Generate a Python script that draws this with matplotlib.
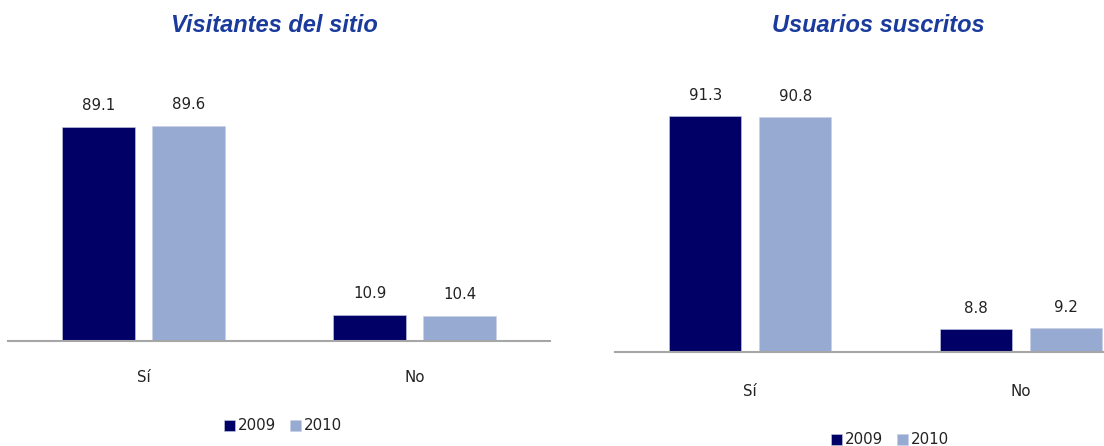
import matplotlib
matplotlib.use("Agg")
import matplotlib.pyplot as plt
from matplotlib.patches import Patch
import numpy as np

categories = ["Sí", "No"]
series_names = ["2009", "2010"]
visitantes_2009 = [89.1, 10.9]
visitantes_2010 = [89.6, 10.4]
usuarios_2009 = [91.3, 8.8]
usuarios_2010 = [90.8, 9.2]
titles = ["Visitantes del sitio", "Usuarios suscritos"]

C_DARK = "#000066"
C_LIGHT = "#96aad2"
TITLE_C = "#1a3b9c"
AX_C = "#a6a6a6"

W, H = 1104, 446
fig = plt.figure(figsize=(W / 100, H / 100), dpi=100)

def px_axes(x0, x1, y_base, y_top):
    return fig.add_axes([x0 / W, (H - y_base) / H, (x1 - x0) / W, (y_base - y_top) / H])

def draw(ax, v1, v2, title, title_xy, label_off, tick_pad, legend_xy):
    x = np.arange(len(categories))
    bw = 0.266
    off = bw / 2 + 0.033
    b1 = ax.bar(x - off, v1, bw, color=C_DARK, edgecolor="#c8cfe6", linewidth=0.4)
    b2 = ax.bar(x + off, v2, bw, color=C_LIGHT, edgecolor="#c8cfe6", linewidth=0.4)
    for bars, vals in ((b1, v1), (b2, v2)):
        for r, v in zip(bars, vals):
            ax.annotate(f"{v:.1f}", (r.get_x() + r.get_width() / 2, v),
                        xytext=(0, label_off), textcoords="offset points",
                        ha="center", va="center", fontsize=10.8, color="#222222")
    ax.set_xlim(-0.5, 1.5)
    ax.set_ylim(0, 100)
    for s in ("top", "right", "left"):
        ax.spines[s].set_visible(False)
    ax.spines["bottom"].set_color(AX_C)
    ax.spines["bottom"].set_linewidth(1.5)
    ax.set_yticks([])
    ax.set_xticks(x)
    ax.set_xticklabels(categories, fontsize=10.8, color="#222222")
    ax.tick_params(axis="x", length=0, pad=tick_pad)
    fig.text(title_xy[0] / W, 1 - title_xy[1] / H, title, ha="center", va="center",
             fontsize=17, fontweight="bold", fontstyle="italic",
             family="Liberation Sans", color=TITLE_C)
    handles = [Patch(facecolor=C_DARK, edgecolor="#c8cfe6", linewidth=0.4),
               Patch(facecolor=C_LIGHT, edgecolor="#c8cfe6", linewidth=0.4)]
    fig.legend(handles, series_names, loc="center",
               bbox_to_anchor=(legend_xy[0] / W, 1 - legend_xy[1] / H),
               ncol=2, frameon=False, fontsize=10.8, handlelength=0.75, handleheight=0.75,
               handletextpad=0.2, columnspacing=0.9, labelcolor="#222222")

ax1 = px_axes(8, 550, 341, 341 - 240)
draw(ax1, visitantes_2009, visitantes_2010, titles[0], (274, 25), 15.5, 21, (283, 426))

ax2 = px_axes(615, 1156, 352, 352 - 258.5)
draw(ax2, usuarios_2009, usuarios_2010, titles[1], (878, 25), 15.0, 23, (890, 440))

fig.savefig("out.png", dpi=100)
